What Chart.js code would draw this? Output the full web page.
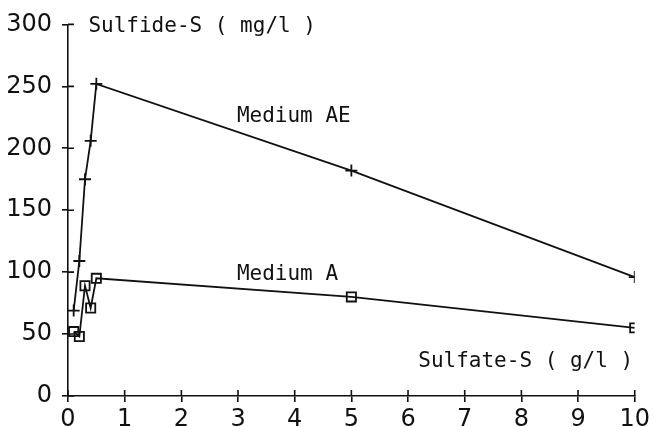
<!DOCTYPE html>
<html>
<head>
<meta charset="utf-8">
<script src="https://cdn.jsdelivr.net/npm/chart.js@4/dist/chart.umd.min.js"></script>
<style>
  html, body { margin: 0; padding: 0; background: #fff; }
  #wrap { width: 653px; height: 427px; }
</style>
</head>
<body>
<div id="wrap"><canvas id="chart"></canvas></div>
<script>
/* ---- data ---- */
const sulfateS = [0.1, 0.2, 0.3, 0.4, 0.5, 5, 10];          // g/l
const mediumAE = [69, 109, 175, 206, 252, 182, 96];          // mg/l sulfide-S
const mediumA  = [52, 48, 89, 71, 95, 80, 55];
const xTicks = [0, 1, 2, 3, 4, 5, 6, 7, 8, 9, 10];
const yTicks = [0, 50, 100, 150, 200, 250, 300];

const toPoints = (xs, ys) => xs.map((x, i) => ({ x, y: ys[i] }));

const INK = "#111";
const MONO = "'DejaVu Sans Mono', monospace";

/* text labels placed in data space */
const notes = [
  { text: "Sulfide-S ( mg/l )", x: 0.36, y: 298.5 },
  { text: "Sulfate-S ( g/l )", x: 6.18, y: 28 },
  { text: "Medium AE", x: 2.98, y: 226 },
  { text: "Medium A", x: 2.98, y: 98 }
];

// inner halves of the tick crosses + annotations
const plotterBits = {
  id: "plotterBits",
  afterDatasetsDraw(chart) {
    const { ctx, scales: { x, y } } = chart;
    const x0 = x.getPixelForValue(0), y0 = y.getPixelForValue(0);
    ctx.save();
    ctx.strokeStyle = INK;
    ctx.lineWidth = 1.6;
    ctx.beginPath();
    yTicks.forEach(v => {
      const py = y.getPixelForValue(v);
      ctx.moveTo(x0, py); ctx.lineTo(x0 + 6, py);
    });
    xTicks.forEach(v => {
      const px = x.getPixelForValue(v);
      ctx.moveTo(px, y0); ctx.lineTo(px, y0 - 6);
    });
    ctx.stroke();

    ctx.fillStyle = INK;
    ctx.font = "21px " + MONO;
    ctx.textBaseline = "middle";
    notes.forEach(n => {
      ctx.fillText(n.text, x.getPixelForValue(n.x), y.getPixelForValue(n.y));
    });
    ctx.restore();
  }
};

new Chart(document.getElementById("chart"), {
  type: "scatter",
  data: {
    datasets: [
      {
        label: "Medium AE",
        data: toPoints(sulfateS, mediumAE),
        showLine: true,
        borderColor: INK,
        borderWidth: 1.8,
        pointStyle: "cross",
        pointRadius: 6,
        pointBorderWidth: 1.8,
        pointBorderColor: INK,
        tension: 0
      },
      {
        label: "Medium A",
        data: toPoints(sulfateS, mediumA),
        showLine: true,
        borderColor: INK,
        borderWidth: 1.8,
        pointStyle: "rect",
        pointRadius: 6.5,
        pointBorderWidth: 1.8,
        pointBorderColor: INK,
        pointBackgroundColor: "rgba(0,0,0,0)",
        tension: 0
      }
    ]
  },
  options: {
    responsive: true,
    maintainAspectRatio: false,
    animation: false,
    layout: { padding: { top: 21, right: 18, left: 0, bottom: 0 } },
    plugins: {
      legend: { display: false },
      tooltip: { enabled: false }
    },
    scales: {
      x: {
        type: "linear",
        min: 0,
        max: 10,
        afterBuildTicks: s => { s.ticks = xTicks.map(v => ({ value: v })); },
        afterFit: s => { s.height = 31; },
        grid: { drawOnChartArea: false, tickLength: 6, color: INK, lineWidth: 1.6 },
        border: { color: INK, width: 1.6 },
        ticks: { color: INK, padding: 3, font: { family: "DejaVu Sans", size: 24 } }
      },
      y: {
        type: "linear",
        min: 0,
        max: 300,
        afterBuildTicks: s => { s.ticks = yTicks.map(v => ({ value: v })); },
        afterFit: s => { s.width = 68; },
        grid: { drawOnChartArea: false, tickLength: 6, color: INK, lineWidth: 1.6 },
        border: { color: INK, width: 1.6 },
        ticks: { color: INK, padding: 10, font: { family: "DejaVu Sans", size: 24 } }
      }
    }
  },
  plugins: [plotterBits]
});
</script>
</body>
</html>
